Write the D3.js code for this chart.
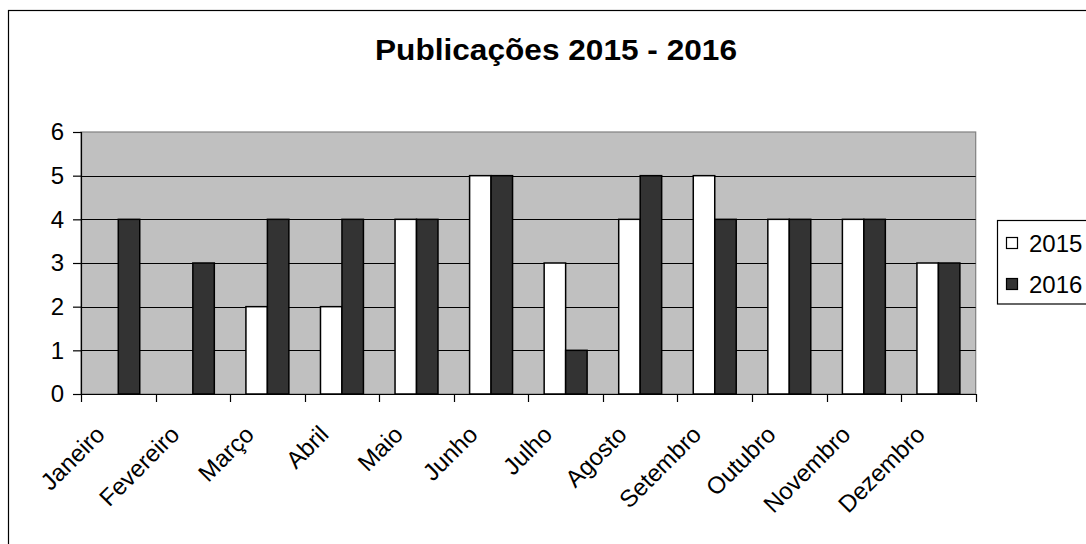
<!DOCTYPE html>
<html>
<head>
<meta charset="utf-8">
<script src="https://cdn.jsdelivr.net/npm/d3@7"></script>
<style>
  html, body { margin: 0; padding: 0; background: #fff; }
  svg { display: block; font-family: Arial, "Liberation Sans", sans-serif; }
</style>
</head>
<body>
<svg id="chart" width="1086" height="544"></svg>
<script>
const title = "Publicações 2015 - 2016";
const months = ["Janeiro", "Fevereiro", "Março", "Abril", "Maio", "Junho", "Julho", "Agosto", "Setembro", "Outubro", "Novembro", "Dezembro"];
const seriesNames = ["2015", "2016"];
const values2015 = [0, 0, 2, 2, 4, 5, 3, 4, 5, 4, 4, 3];
const values2016 = [4, 3, 4, 4, 4, 5, 1, 5, 4, 4, 4, 3];
const yTicks = [0, 1, 2, 3, 4, 5, 6];
const seriesColors = ["#ffffff", "#333333"];

const svg = d3.select("#chart");
const W = 1086, H = 544;
const plot = { left: 81, right: 975.7, top: 132, bottom: 394 };

// outer chart border (cropped at right/bottom)
svg.append("rect")
  .attr("x", 8.5).attr("y", 10.5)
  .attr("width", W + 20).attr("height", H + 20)
  .attr("fill", "#fff").attr("stroke", "#000").attr("stroke-width", 1.2);

// title
svg.append("text")
  .attr("transform", "translate(556,59.5) scale(1.09,1)")
  .attr("text-anchor", "middle")
  .attr("font-weight", "bold")
  .attr("font-size", 29)
  .attr("fill", "#000")
  .text(title);

const x0 = d3.scaleBand().domain(months).range([plot.left, plot.right]).padding(0);
const y = d3.scaleLinear().domain([0, 6]).range([plot.bottom, plot.top]);

// plot background
svg.append("rect")
  .attr("x", plot.left).attr("y", plot.top)
  .attr("width", plot.right - plot.left).attr("height", plot.bottom - plot.top)
  .attr("fill", "#c0c0c0").attr("stroke", "#808080").attr("stroke-width", 1.2);

// gridlines
svg.append("g").selectAll("line")
  .data(yTicks.filter(t => t > 0 && t < 6))
  .join("line")
  .attr("x1", plot.left).attr("x2", plot.right)
  .attr("y1", d => Math.round(y(d)) + 0.5).attr("y2", d => Math.round(y(d)) + 0.5)
  .attr("stroke", "#000").attr("stroke-width", 1.2);

// bars
const bw = x0.bandwidth() * 0.288;
const x1 = d3.scaleBand().domain(seriesNames).range([0, 2 * bw]).padding(0);
const data = months.map((m, i) => ({ month: m, vals: [values2015[i], values2016[i]] }));
const groups = svg.append("g").selectAll("g")
  .data(data)
  .join("g")
  .attr("transform", d => `translate(${x0(d.month) + x0.bandwidth() / 2 - bw},0)`);
groups.selectAll("rect")
  .data(d => d.vals.map((v, j) => ({ key: seriesNames[j], v, j })).filter(e => e.v > 0))
  .join("rect")
  .attr("x", d => x1(d.key))
  .attr("y", d => y(d.v))
  .attr("width", x1.bandwidth())
  .attr("height", d => y(0) - y(d.v))
  .attr("fill", d => seriesColors[d.j])
  .attr("stroke", "#000").attr("stroke-width", 1.5);

// y axis
const yAxis = svg.append("g")
  .attr("transform", `translate(${plot.left},0)`)
  .call(d3.axisLeft(y).tickValues(yTicks).tickSize(8).tickPadding(9).tickFormat(d3.format("d")));
yAxis.select(".domain").attr("stroke", "#000").attr("stroke-width", 1.2);
yAxis.selectAll(".tick line").attr("stroke", "#000").attr("stroke-width", 1.2);
yAxis.selectAll(".tick text").attr("font-size", 24).attr("fill", "#000")
  .attr("font-family", "Arial, 'Liberation Sans', sans-serif");

// x axis
const xAxis = svg.append("g")
  .attr("transform", `translate(0,${plot.bottom})`)
  .call(d3.axisBottom(x0).tickSize(0).tickFormat(""));
xAxis.select(".domain").attr("stroke", "#000").attr("stroke-width", 1.2);
// category boundary ticks
const bounds = months.map(m => x0(m)).concat([plot.right]);
svg.append("g").selectAll("line")
  .data(bounds)
  .join("line")
  .attr("x1", d => Math.round(d) + 0.5).attr("x2", d => Math.round(d) + 0.5)
  .attr("y1", plot.bottom).attr("y2", plot.bottom + 8)
  .attr("stroke", "#000").attr("stroke-width", 1.2);

// x labels rotated
svg.append("g").selectAll("text")
  .data(months)
  .join("text")
  .attr("transform", d => `translate(${x0(d) + x0.bandwidth() / 2 - 12},${plot.bottom + 42}) rotate(-45)`)
  .attr("text-anchor", "end")
  .attr("font-size", 24)
  .attr("fill", "#000")
  .text(d => d);

// legend
const lg = svg.append("g");
lg.append("rect")
  .attr("x", 997.5).attr("y", 220.5).attr("width", 120).attr("height", 83.5)
  .attr("fill", "#fff").attr("stroke", "#000").attr("stroke-width", 1.2);
const items = lg.selectAll("g.item")
  .data(seriesNames)
  .join("g").attr("class", "item")
  .attr("transform", (d, i) => `translate(1006.5,${237.5 + i * 41})`);
items.append("rect")
  .attr("width", 11).attr("height", 11)
  .attr("fill", (d, i) => seriesColors[i])
  .attr("stroke", "#000").attr("stroke-width", 1.2);
items.append("text")
  .attr("x", 22.5).attr("y", 14.5)
  .attr("font-size", 24)
  .attr("fill", "#000")
  .text(d => d);
</script>
</body>
</html>
